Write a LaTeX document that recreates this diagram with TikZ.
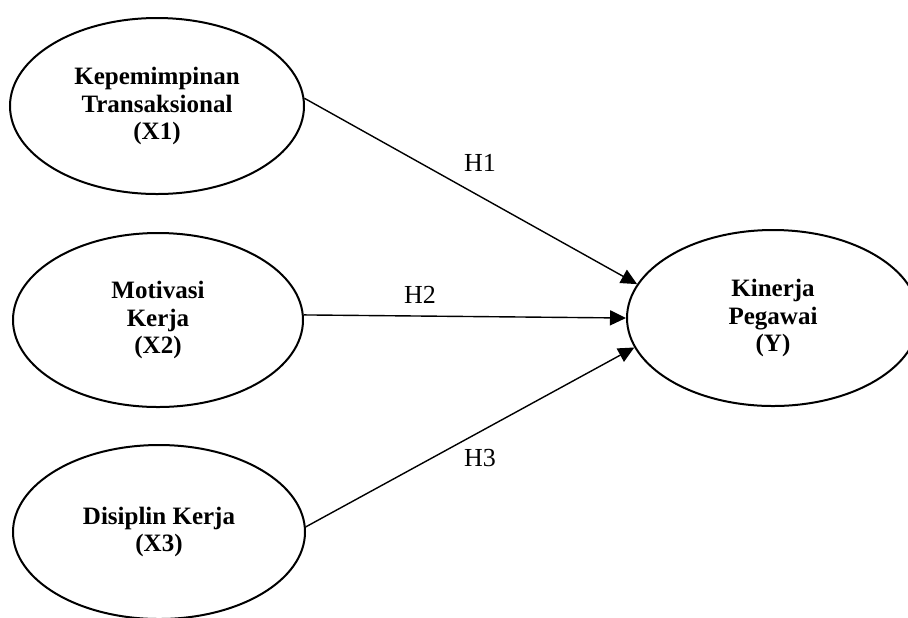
\documentclass[tikz,border=0pt]{standalone}
\usepackage{fontspec}
\setmainfont{Liberation Serif}
\usetikzlibrary{arrows.meta,shapes.geometric}
\tikzset{
    every node/.style={font=\fontsize{13}{14}\selectfont},
    latent/.style={ellipse,draw,line width=1pt,align=center,inner sep=0pt,
        font=\fontsize{12.5}{13.6}\selectfont\bfseries},
    path/.style={draw,line width=0.7pt,-{Triangle[length=8pt,width=7.5pt]}}
}
\begin{document}
\begin{tikzpicture}[x=0.5pt,y=-0.5pt]
\useasboundingbox (0,0) rectangle (908,617);
% constructs
\node[latent,minimum width=147pt,minimum height=88pt] (x1) at (157,106) {Kepemimpinan\\Transaksional\\(X1)};
\node[latent,minimum width=145pt,minimum height=87pt] (x2) at (158,320) {Motivasi\\Kerja\\(X2)};
\node[latent,minimum width=146pt,minimum height=87pt] (x3) at (159,532) {Disiplin Kerja\\(X3)};
\node[latent,minimum width=146pt,minimum height=88pt] (y) at (773,318) {Kinerja\\Pegawai\\(Y)};
% hypotheses
\draw[path] (x1.3) -- (y.166);
\draw[path] (x2.2) -- (y.west);
\draw[path] (x3.2) -- (y.192);
\node (h1) at (480,163) {H1};
\node (h2) at (420,295) {H2};
\node (h3) at (480,458) {H3};
\end{tikzpicture}
\end{document}
